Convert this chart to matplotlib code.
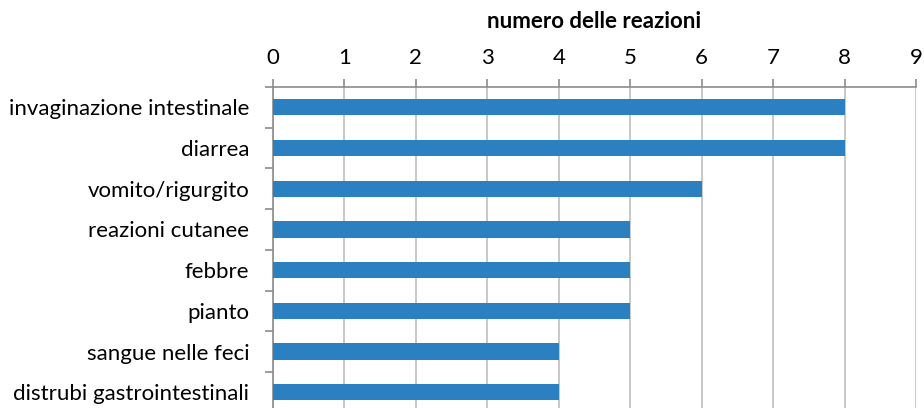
import numpy as np
import matplotlib.pyplot as plt

categories = ["invaginazione intestinale", "diarrea", "vomito/rigurgito",
              "reazioni cutanee", "febbre", "pianto", "sangue nelle feci",
              "distrubi gastrointestinali"]
counts = [8, 8, 6, 5, 5, 5, 4, 4]
xticks = list(range(0, 10))

plt.rcParams['font.family'] = ['Lato', 'DejaVu Sans']

fig = plt.figure(figsize=(9.24, 4.08), dpi=100)
ax = fig.add_axes([0.2955, -0.0113, 0.6958, 0.7981])

y = np.arange(len(categories))
ax.barh(y, counts, height=0.4, color="#2A80C0", zorder=3)

ax.set_xlim(0, 9)
ax.set_ylim(len(categories) - 0.5, -0.5)

ax.xaxis.tick_top()
ax.xaxis.set_label_position("top")
ax.set_xticks(xticks)
ax.set_xticklabels([str(t) for t in xticks], fontsize=16)
ax.tick_params(axis="x", direction="out", length=6, width=1.2,
               color="#8C8C8C", pad=8)
ax.set_xlabel("numero delle reazioni", fontsize=16, fontweight="bold", labelpad=14)

ax.set_yticks(y)
ax.set_yticklabels(categories, fontsize=16)
ax.tick_params(axis="y", which="major", length=0, pad=17)
ax.set_yticks(np.arange(len(categories) + 1) - 0.5, minor=True)
ax.tick_params(axis="y", which="minor", direction="out", length=6,
               width=1.2, color="#8C8C8C")

ax.grid(axis="x", color="#BFBFBF", linewidth=1.2, zorder=0)

for side in ["right", "bottom"]:
    ax.spines[side].set_visible(False)
for side in ["top", "left"]:
    ax.spines[side].set_color("#8C8C8C")
    ax.spines[side].set_linewidth(1.2)

fig.savefig("out.png", dpi=100)
